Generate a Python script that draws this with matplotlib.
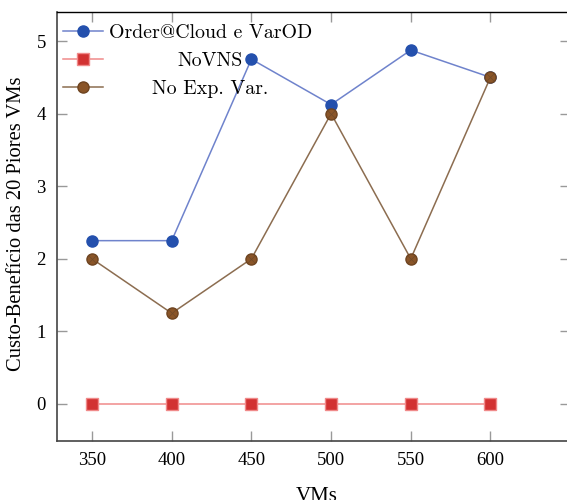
import matplotlib
matplotlib.use("Agg")
import matplotlib.pyplot as plt

plt.rcParams['font.family'] = ['Liberation Serif', 'DejaVu Serif']

vms = [350, 400, 450, 500, 550, 600]
order_cloud = [2.25, 2.25, 4.75, 4.125, 4.875, 4.5]
novns = [0, 0, 0, 0, 0, 0]
no_exp_var = [2, 1.25, 2, 4, 2, 4.5]
labels = ["Order@Cloud e VarOD", "NoVNS", "No Exp. Var."]

fig = plt.figure(figsize=(5.67, 5.0), dpi=100)
ax = fig.add_axes([0.1005, 0.118, 0.905, 0.858])

l1, = ax.plot(vms, order_cloud, color='#6f83cc', lw=1.1, marker='o', ms=8,
              mfc='#2450ad', mec='#2450ad', zorder=3)
l2, = ax.plot(vms, novns, color='#f08a8a', lw=1.1, marker='s', ms=8,
              mfc='#d23232', mec='#f08a8a', zorder=3)
l3, = ax.plot(vms, no_exp_var, color='#8c6d50', lw=1.1, marker='o', ms=8,
              mfc='#8a5528', mec='#6e4420', zorder=3)
ax.plot(vms, no_exp_var, ls='none', marker='x', ms=5.5, mec='#6e4a2a', mew=0.5, zorder=4)

ax.set_xlim(328, 650)
ax.set_ylim(-0.51, 5.4)
ax.set_xticks(vms)
ax.set_yticks([0, 1, 2, 3, 4, 5])
ax.tick_params(direction='in', length=7, width=1, color='#999999', labelsize=13.5,
               top=True, right=True, pad=8)
for s in ['left', 'bottom']:
    ax.spines[s].set_color('#444444')
    ax.spines[s].set_linewidth(1.2)
ax.spines['top'].set_linewidth(1.0)

ax.set_xlabel("VMs", fontsize=15)
ax.xaxis.set_label_coords(0.506, -0.107)
ax.set_ylabel("Custo-Benefício das 20 Piores VMs", fontsize=14.8)
ax.yaxis.set_label_coords(-0.06, 0.506)

leg = ax.legend([l1, l2, l3], labels, loc='upper left', bbox_to_anchor=(0.0, 0.985),
                frameon=False, handlelength=2.0, handletextpad=0.3, labelspacing=0.5,
                borderaxespad=0.1, borderpad=0.2,
                prop={'family': 'cmr10', 'size': 14.3})
fig.canvas.draw()
texts = leg.get_texts()
maxw = max(t.get_window_extent().width for t in texts)
for t in texts:
    w = t.get_window_extent().width
    t.set_ha('center')
    t.set_position((maxw / 2 - w / 2, 0))

fig.savefig("out.png", dpi=100)
